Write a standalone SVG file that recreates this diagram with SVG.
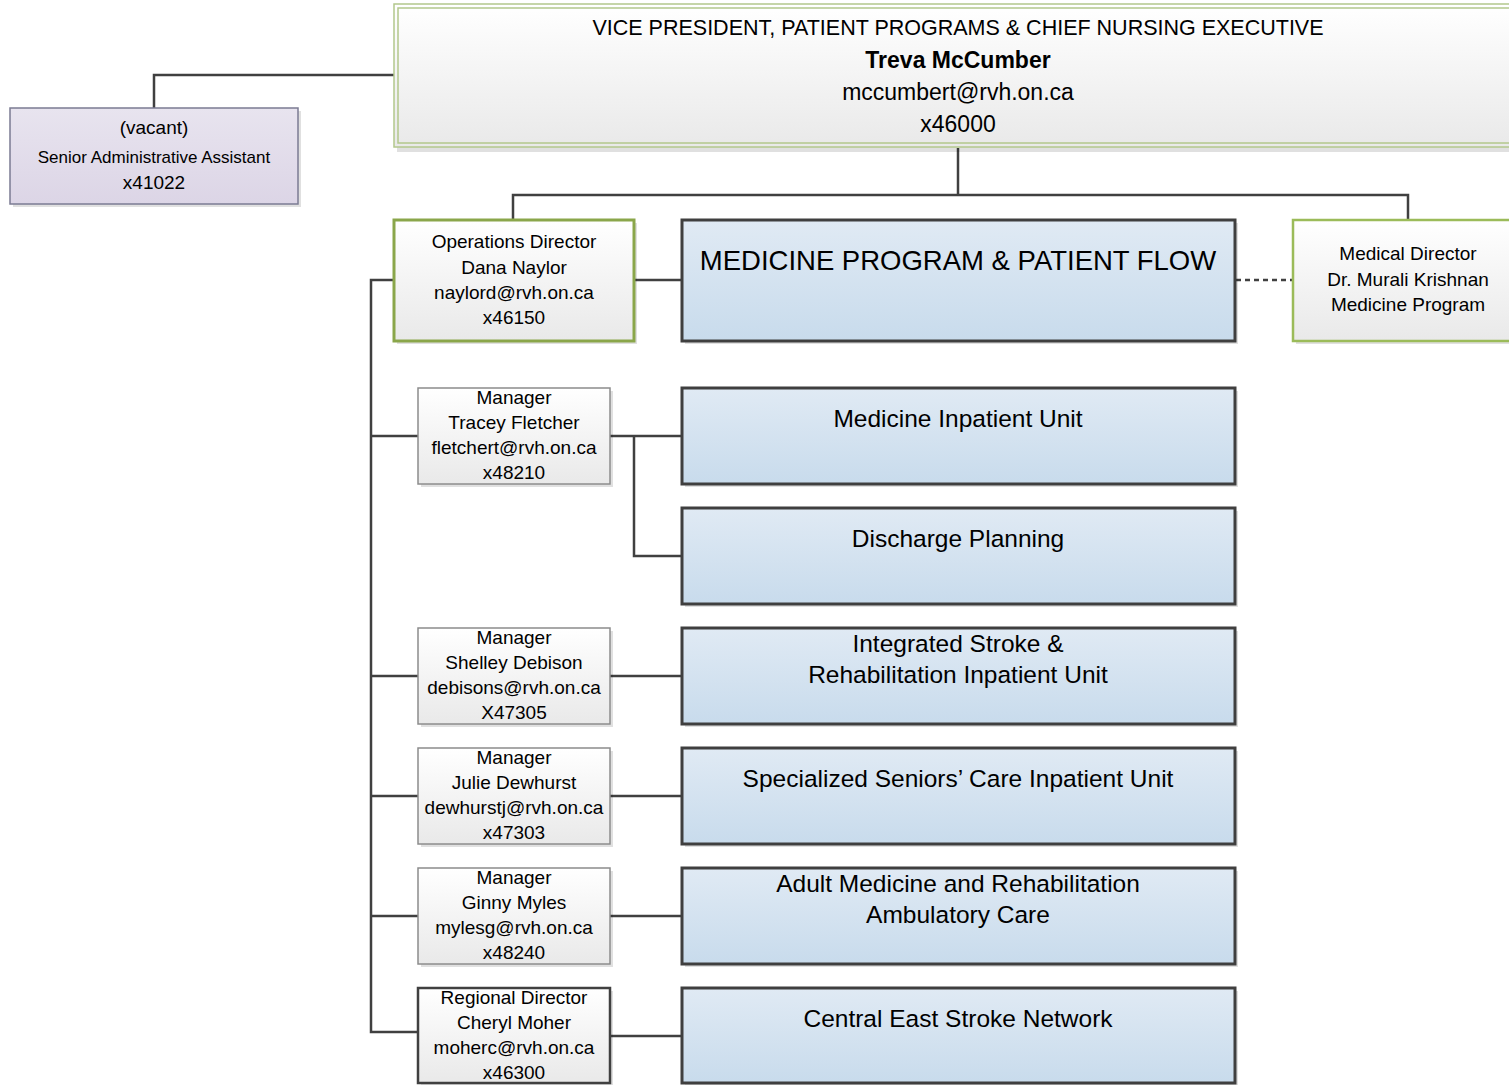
<svg xmlns="http://www.w3.org/2000/svg" width="1509" height="1085" viewBox="0 0 1509 1085">
<defs>
<linearGradient id="gGrey" x1="0" y1="0" x2="0" y2="1"><stop offset="0" stop-color="#ffffff"/><stop offset="1" stop-color="#e9e9e9"/></linearGradient>
<linearGradient id="gBlue" x1="0" y1="0" x2="0" y2="1"><stop offset="0" stop-color="#e0eaf4"/><stop offset="1" stop-color="#c8dbec"/></linearGradient>
<linearGradient id="gPurple" x1="0" y1="0" x2="0" y2="1"><stop offset="0" stop-color="#e8e4ef"/><stop offset="1" stop-color="#dcd5e6"/></linearGradient>
</defs>
<style>
text{font-family:"Liberation Sans",Arial,sans-serif;fill:#000;text-anchor:middle}
.sh{fill:#000;opacity:0.12}
.conn{stroke:#404040;stroke-width:2.5;fill:none}
.dash{stroke:#404040;stroke-width:2.5;fill:none;stroke-dasharray:5 4}
.blue{fill:url(#gBlue);stroke:#3f3f3f;stroke-width:3}
.mgr{fill:url(#gGrey);stroke:#8c8c8c;stroke-width:1.5}
.mgrd{fill:url(#gGrey);stroke:#404040;stroke-width:2.5}
.t19{font-size:19px}
.t24{font-size:24.5px}
</style>
<rect width="1509" height="1085" fill="#fff"/>

<g id="connectors">
<polyline class="conn" points="394,75 154,75 154,108"/>
<polyline class="conn" points="958,148 958,195"/>
<polyline class="conn" points="513,220 513,195 1408,195 1408,220"/>
<line class="conn" x1="634" y1="280" x2="682" y2="280"/>
<line class="dash" x1="1236" y1="280" x2="1293" y2="280"/>
<polyline class="conn" points="394,280 371,280 371,1032 418,1032"/>
<line class="conn" x1="371" y1="436" x2="418" y2="436"/>
<line class="conn" x1="371" y1="676" x2="418" y2="676"/>
<line class="conn" x1="371" y1="796" x2="418" y2="796"/>
<line class="conn" x1="371" y1="916" x2="418" y2="916"/>
<line class="conn" x1="610" y1="436" x2="682" y2="436"/>
<polyline class="conn" points="634,436 634,556 682,556"/>
<line class="conn" x1="610" y1="676" x2="682" y2="676"/>
<line class="conn" x1="610" y1="796" x2="682" y2="796"/>
<line class="conn" x1="610" y1="916" x2="682" y2="916"/>
<line class="conn" x1="610" y1="1036" x2="682" y2="1036"/>
</g>

<g id="vp">
<rect class="sh" x="397" y="8" width="1120" height="144"/>
<rect x="394" y="4" width="1120" height="143" fill="url(#gGrey)" stroke="#b3c78c" stroke-width="1.5"/>
<rect x="398" y="8" width="1120" height="135" fill="none" stroke="#b3c78c" stroke-width="1.5"/>
<text x="958" y="35" style="font-size:21.5px">VICE PRESIDENT, PATIENT PROGRAMS &amp; CHIEF NURSING EXECUTIVE</text>
<text x="958" y="68" style="font-size:23px;font-weight:bold">Treva McCumber</text>
<text x="958" y="100" style="font-size:23px">mccumbert@rvh.on.ca</text>
<text x="958" y="132" style="font-size:23px">x46000</text>
</g>

<g id="admin">
<rect class="sh" x="13" y="111" width="288" height="96"/>
<rect x="10" y="108" width="288" height="96" fill="url(#gPurple)" stroke="#7b7b93" stroke-width="1.5"/>
<text x="154" y="134" class="t19">(vacant)</text>
<text x="154" y="163" style="font-size:17px">Senior Administrative Assistant</text>
<text x="154" y="189" class="t19">x41022</text>
</g>

<g id="ops-director">
<rect class="sh" x="397" y="223" width="240" height="121"/>
<rect x="394" y="220" width="240" height="121" fill="url(#gGrey)" stroke="#8aa64a" stroke-width="3"/>
<text x="514" y="248" class="t19">Operations Director</text>
<text x="514" y="274" class="t19">Dana Naylor</text>
<text x="514" y="299" class="t19">naylord@rvh.on.ca</text>
<text x="514" y="324" class="t19">x46150</text>
</g>

<g id="medicine-program">
<rect class="sh" x="685" y="223" width="553" height="121"/>
<rect class="blue" x="682" y="220" width="553" height="121"/>
<text x="958" y="270" style="font-size:27.5px">MEDICINE PROGRAM &amp; PATIENT FLOW</text>
</g>

<g id="medical-director">
<rect class="sh" x="1296" y="223" width="230" height="121"/>
<rect x="1293" y="220" width="230" height="121" fill="url(#gGrey)" stroke="#9bbb59" stroke-width="2.5"/>
<text x="1408" y="260" class="t19">Medical Director</text>
<text x="1408" y="286" class="t19">Dr. Murali Krishnan</text>
<text x="1408" y="311" class="t19">Medicine Program</text>
</g>

<g id="mgr-fletcher">
<rect class="sh" x="421" y="391" width="192" height="96"/>
<rect class="mgr" x="418" y="388" width="192" height="96"/>
<text x="514" y="404" class="t19">Manager</text>
<text x="514" y="429" class="t19">Tracey Fletcher</text>
<text x="514" y="454" class="t19">fletchert@rvh.on.ca</text>
<text x="514" y="479" class="t19">x48210</text>
</g>

<g id="medicine-inpatient">
<rect class="sh" x="685" y="391" width="553" height="96"/>
<rect class="blue" x="682" y="388" width="553" height="96"/>
<text x="958" y="427" class="t24">Medicine Inpatient Unit</text>
</g>

<g id="discharge">
<rect class="sh" x="685" y="511" width="553" height="96"/>
<rect class="blue" x="682" y="508" width="553" height="96"/>
<text x="958" y="547" class="t24">Discharge Planning</text>
</g>

<g id="mgr-debison">
<rect class="sh" x="421" y="631" width="192" height="96"/>
<rect class="mgr" x="418" y="628" width="192" height="96"/>
<text x="514" y="644" class="t19">Manager</text>
<text x="514" y="669" class="t19">Shelley Debison</text>
<text x="514" y="694" class="t19">debisons@rvh.on.ca</text>
<text x="514" y="719" class="t19">X47305</text>
</g>

<g id="stroke-rehab">
<rect class="sh" x="685" y="631" width="553" height="96"/>
<rect class="blue" x="682" y="628" width="553" height="96"/>
<text x="958" y="652" class="t24">Integrated Stroke &amp;</text>
<text x="958" y="683" class="t24">Rehabilitation Inpatient Unit</text>
</g>

<g id="mgr-dewhurst">
<rect class="sh" x="421" y="751" width="192" height="96"/>
<rect class="mgr" x="418" y="748" width="192" height="96"/>
<text x="514" y="764" class="t19">Manager</text>
<text x="514" y="789" class="t19">Julie Dewhurst</text>
<text x="514" y="814" class="t19">dewhurstj@rvh.on.ca</text>
<text x="514" y="839" class="t19">x47303</text>
</g>

<g id="seniors-care">
<rect class="sh" x="685" y="751" width="553" height="96"/>
<rect class="blue" x="682" y="748" width="553" height="96"/>
<text x="958" y="787" class="t24">Specialized Seniors’ Care Inpatient Unit</text>
</g>

<g id="mgr-myles">
<rect class="sh" x="421" y="871" width="192" height="96"/>
<rect class="mgr" x="418" y="868" width="192" height="96"/>
<text x="514" y="884" class="t19">Manager</text>
<text x="514" y="909" class="t19">Ginny Myles</text>
<text x="514" y="934" class="t19">mylesg@rvh.on.ca</text>
<text x="514" y="959" class="t19">x48240</text>
</g>

<g id="ambulatory">
<rect class="sh" x="685" y="871" width="553" height="96"/>
<rect class="blue" x="682" y="868" width="553" height="96"/>
<text x="958" y="892" class="t24">Adult Medicine and Rehabilitation</text>
<text x="958" y="923" class="t24">Ambulatory Care</text>
</g>

<g id="regional-moher">
<rect class="sh" x="421" y="991" width="192" height="96"/>
<rect class="mgrd" x="418" y="988" width="192" height="95"/>
<text x="514" y="1004" class="t19">Regional Director</text>
<text x="514" y="1029" class="t19">Cheryl Moher</text>
<text x="514" y="1054" class="t19">moherc@rvh.on.ca</text>
<text x="514" y="1079" class="t19">x46300</text>
</g>

<g id="stroke-network">
<rect class="sh" x="685" y="991" width="553" height="96"/>
<rect class="blue" x="682" y="988" width="553" height="95"/>
<text x="958" y="1027" class="t24">Central East Stroke Network</text>
</g>
</svg>
